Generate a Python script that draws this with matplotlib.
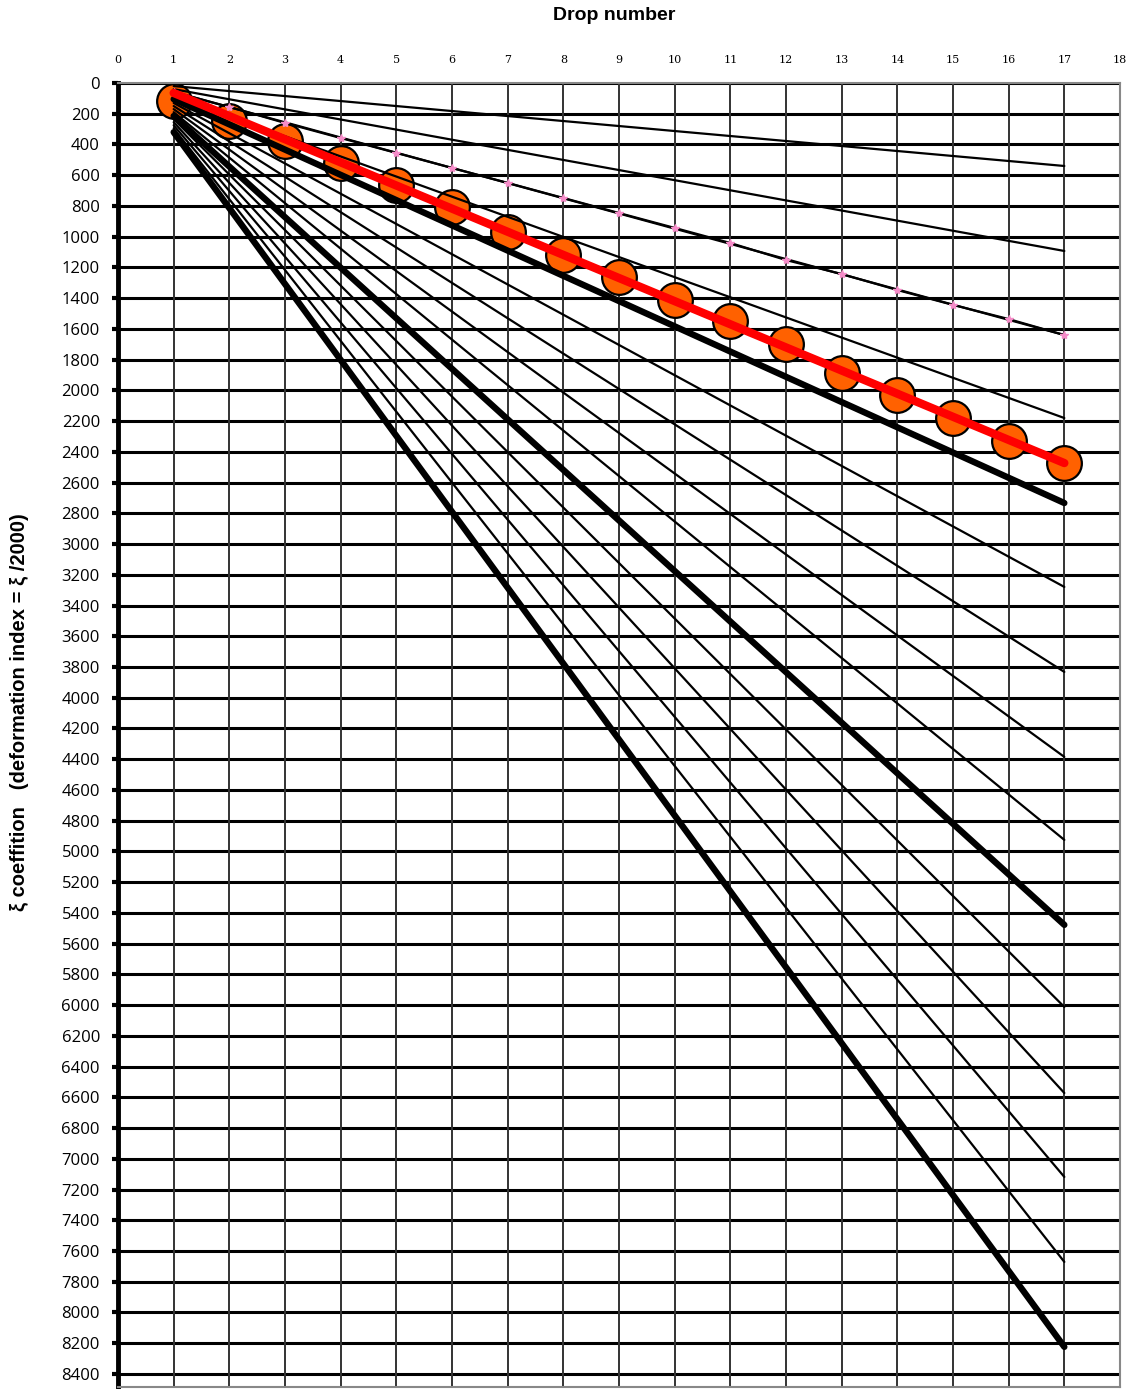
import numpy as np
import matplotlib.pyplot as plt

# drop numbers
drops = np.arange(1, 18)

# fan of reference lines: value at drop 1 and at drop 17
fan_start = [20, 40, 58, 85, 105, 130, 150, 170, 190, 215, 235, 255, 275, 295, 320]
fan_end = [540, 1093, 1640, 2180, 2733, 3279, 3832, 4385, 4925, 5478, 6012, 6572, 7118, 7671, 8224]
fan_thick = [5, 10, 15]  # which lines (1-based) are drawn heavy

# pink marked line (one value per drop)
pink_y = [58, 156, 260, 358, 455, 553, 650, 748, 846, 943, 1041, 1152, 1243, 1347, 1444, 1536, 1640]

# measured points (orange circles)
meas_y = [117, 247, 377, 520, 664, 806, 969, 1119, 1262, 1412, 1549, 1698, 1887, 2030, 2180, 2329, 2473]

# red trend line
red_x = [1, 17]
red_y = [65, 2473]

W, H = 1134, 1389
fig = plt.figure(figsize=(W / 100, H / 100), dpi=100)
ax = fig.add_axes([118 / W, 1 - 1387 / H, (1120 - 118) / W, (1387 - 83) / H])

# grid
for v in range(0, 8401, 200):
    ax.axhline(v, color='black', lw=2.2, zorder=1)
for x in range(1, 19):
    ax.axvline(x, color='#333333', lw=1.4, zorder=1)

# circles under the lines
ax.plot(drops, meas_y, 'o', ms=25, mfc='#FF6100', mec='black', mew=1.6, zorder=2)

# fan lines
for i, (s, e) in enumerate(zip(fan_start, fan_end)):
    lw = 4.6 if (i + 1) in fan_thick else 1.6
    ax.plot([1, 17], [s, e], color='black', lw=lw, solid_capstyle='round', zorder=3)

ax.plot(drops, pink_y, color='black', lw=1.6, zorder=3)
ax.plot(drops, pink_y, ls='none', marker='*', ms=6, color='#F58CC8', zorder=4)

ax.plot(red_x, red_y, color='#FF0000', lw=6, solid_capstyle='round', zorder=5)

ax.set_xlim(0, 18)
ax.set_ylim(8485, 0)
ax.set_xticks(range(0, 19))
ax.set_yticks(range(0, 8401, 200))
ax.xaxis.tick_top()
ax.tick_params(axis='x', length=0, pad=13, labelsize=8)
for lab in ax.get_xticklabels():
    lab.set_family('DejaVu Serif')
ax.tick_params(axis='y', direction='out', length=4, width=3, pad=9, labelsize=12)
for lab in ax.get_yticklabels():
    lab.set_family('Open Sans')

for side in ['top', 'right', 'bottom']:
    ax.spines[side].set_color('#888888')
    ax.spines[side].set_linewidth(1.5)
ax.spines['left'].set_linewidth(3.5)
ax.spines['left'].set_color('black')

fig.text(614 / W, 1 - 16 / H, 'Drop number', ha='center', va='center',
         fontsize=14, fontweight='bold', family='Liberation Sans')
fig.text(20 / W, 1 - 712 / H, 'ξ coeffition   (deformation index = ξ /2000)',
         rotation=90, ha='center', va='center', fontsize=14.5, fontweight='bold',
         family='Liberation Sans')

fig.savefig('out.png', dpi=100)
